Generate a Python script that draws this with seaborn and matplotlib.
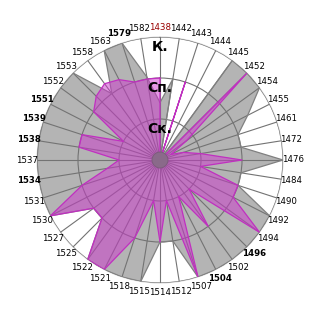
import numpy as np
import pandas as pd
import matplotlib
matplotlib.use("Agg")
import matplotlib.pyplot as plt
import matplotlib.patches as mpatches
import seaborn as sns

categories = ["1438", "1442", "1443", "1444", "1445", "1452", "1454", "1455", "1461", "1472",
              "1476", "1484", "1490", "1492", "1494", "1496", "1502", "1504", "1507", "1512",
              "1514", "1515", "1518", "1521", "1522", "1525", "1527", "1530", "1531", "1534",
              "1537", "1538", "1539", "1551", "1552", "1553", "1558", "1563", "1579", "1582"]
bold_labels = ["1579", "1551", "1539", "1538", "1534", "1496", "1504"]
red_labels = ["1438"]

gray_values = [1.4, 2, 0, 0, 3, 3, 3, 2.4, 2, 2,
               3, 2, 2, 3, 3, 3, 3, 3, 3, 2,
               2, 3, 3, 3, 3, 2, 2, 3, 3, 3,
               3, 3, 3, 3, 3, 3, 2, 3, 3, 2.05]
magenta_values = [2, 0, 2, 0, 0, 3, 0.8, 0.3, 0.6, 1,
                  2, 1, 2, 2, 3, 1, 2, 1, 3, 1,
                  2, 1, 2, 3, 3, 2, 2, 3, 2, 1.3,
                  1, 2, 2, 1, 2, 2.2, 2.3, 2.2, 2, 2]
level_labels = ["Ск.", "Сп.", "К."]
level_values = [1, 2, 3]

sns.set_style("white")
plt.rcParams["font.family"] = ["DejaVu Sans"]

n = len(categories)
theta = np.arange(n) * 2 * np.pi / n

df = pd.DataFrame({"cat": categories, "theta": theta,
                   "gray": gray_values, "magenta": magenta_values})
closed = pd.concat([df, df.iloc[[0]]], ignore_index=True)

fig = plt.figure(figsize=(3.2, 3.2), dpi=100)
ax = fig.add_axes([37 / 320, 37 / 320, 246 / 320, 246 / 320], projection="polar")
ax.set_theta_zero_location("N")
ax.set_theta_direction(-1)
ax.set_ylim(0, 3)

ax.fill(closed["theta"], closed["gray"], color="#b4b4b4", zorder=2, linewidth=0)
sns.lineplot(data=closed, x="theta", y="gray", sort=False, ax=ax, color="#808080",
             linewidth=0.9, zorder=3, estimator=None)
ax.fill(closed["theta"], closed["magenta"], color=(205 / 255, 53 / 255, 205 / 255),
        alpha=0.5, zorder=4, linewidth=0)
sns.lineplot(data=closed, x="theta", y="magenta", sort=False, ax=ax, color="#c030c0",
             linewidth=0.9, zorder=5, estimator=None)

ax.set_xticks(theta)
ax.set_xticklabels([])
ax.set_yticks(level_values)
ax.set_yticklabels([])
ax.set_xlabel("")
ax.set_ylabel("")
ax.grid(True, color=(0.45, 0.45, 0.45, 0.25), linewidth=0.8, zorder=6)
ax.set_axisbelow(False)
for gl in ax.xaxis.get_gridlines() + ax.yaxis.get_gridlines():
    gl.set_zorder(6)
ax.spines["polar"].set_color("#d8d8d8")
ax.spines["polar"].set_linewidth(0.8)

for t, lab in zip(theta, categories):
    weight = "bold" if lab in bold_labels else "normal"
    color = "#990000" if lab in red_labels else "black"
    ax.text(t, 3.24, lab, ha="center", va="center", fontsize=6.2, fontweight=weight,
            color=color, zorder=10)

for r, lab in zip(level_values, level_labels):
    ax.text(0, r - 0.07, lab, ha="center", va="top", fontsize=10, fontweight="bold",
            color="black", zorder=10)

center = mpatches.Circle((0.5, 0.5), 8 / 246, transform=ax.transAxes,
                         facecolor="#8a6a8a", edgecolor="#7a5a7a", linewidth=0.6, zorder=8)
ax.add_patch(center)

fig.savefig("out.png", dpi=100)
